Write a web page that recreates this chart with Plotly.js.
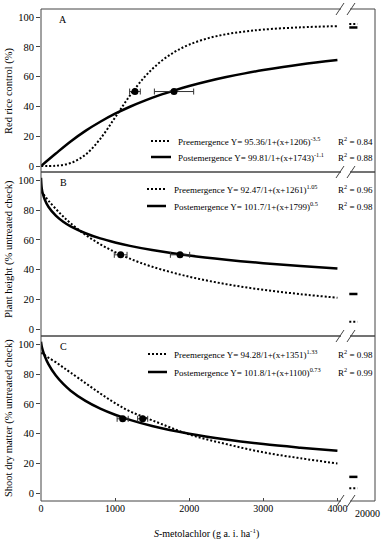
<!DOCTYPE html>
<html>
<head>
<meta charset="utf-8">
<script src="https://cdn.plot.ly/plotly-3.0.1.min.js"></script>
<style>html,body{margin:0;padding:0;background:#fff}#chart{width:382px;height:540px}</style>
</head>
<body>
<div id="chart"></div>
<script>
// ---------- data ----------
const doseA = [0, 200, 400, 600, 800, 1000, 1200, 1400, 1600, 1800, 2000, 2250, 2500, 2750, 3000, 3500, 4000];
const preA  = [0, 0.2, 2.0, 7.6, 18.3, 32.6, 47.3, 59.9, 69.5, 76.5, 81.5, 85.7, 88.5, 90.3, 91.6, 93.1, 93.9];
const postA = [0, 8.4, 16.5, 23.6, 29.7, 35.1, 39.8, 43.9, 47.6, 50.8, 53.7, 56.9, 59.7, 62.2, 64.4, 68.2, 71.2];

const doseBC = [0, 10, 25, 50, 100, 200, 300, 400, 600, 800, 1000, 1200, 1500, 2000, 2500, 3000, 3500, 4000];
const preB  = [92.5, 91.9, 91.0, 89.5, 86.4, 80.8, 75.7, 71.2, 63.4, 57.1, 51.8, 47.4, 42.0, 35.3, 30.3, 26.5, 23.6, 21.2];
const postB = [101.7, 94.6, 91.0, 87.2, 82.3, 76.3, 72.2, 69.1, 64.5, 61.0, 58.3, 56.0, 53.2, 49.5, 46.7, 44.4, 42.5, 40.8];
const preC  = [94.3, 94.0, 93.5, 92.7, 91.0, 88.0, 84.5, 81.0, 74.0, 67.0, 60.5, 55.0, 49.0, 39.5, 33.0, 27.5, 23.5, 20.0];
const postC = [101.8, 98.6, 95.8, 92.2, 86.7, 79.0, 73.4, 68.9, 62.0, 56.8, 52.7, 49.3, 45.2, 40.0, 36.1, 33.0, 30.6, 28.5];

// ED50 points (x = dose, y = 50) with horizontal error
const ed50PreX   = [1268, 1075, 1372];
const ed50PreErr = [72, 86, 68];
const ed50PostX  = [1795, 1876, 1102];
const ed50PostErr= [265, 130, 75];
const ed50Y      = [50, 50, 50];

// observed values at 20000 g a.i./ha (broken axis segment)
const highDose = 20000;
const highPre  = [95.3, 5.0, 3.3];
const highPost = [93.0, 23.7, 11.0];

const xTicks = [0, 1000, 2000, 3000, 4000];
const yTicks = [0, 20, 40, 60, 80, 100];

const eqPre  = ['Y= 95.36/1+(x+1206)<sup>-3.5</sup>', 'Y= 92.47/1+(x+1261)<sup>1.05</sup>', 'Y= 94.28/1+(x+1351)<sup>1.33</sup>'];
const eqPost = ['Y= 99.81/1+(x+1743)<sup>-1.1</sup>', 'Y= 101.7/1+(x+1799)<sup>0.5</sup>', 'Y= 101.8/1+(x+1100)<sup>0.73</sup>'];
const r2Pre  = ['0.84', '0.96', '0.98'];
const r2Post = ['0.88', '0.98', '0.99'];
const panelLetters = ['A', 'B', 'C'];
const yTitles = ['Red rice control (%)', 'Plant height (% untreated check)', 'Shoot dry matter (% untreated check)'];

// ---------- layout helpers ----------
const W = 382, H = 540, ML = 41, MR = 7, MT = 9, MB = 39;
const PW = W - ML - MR, PH = H - MT - MB;
const px = v => (v - ML) / PW;
const py = v => (H - MB - v) / PH;
const XMAX = 4507;
const highPos = 4215;      // where the 20000 segment sits on the drawn axis
const highHalf = 55;

const panelsPx = [[9, 172], [172, 336], [336, 501]];
const yRanges = [[-4.0, 105.4], [-4.5, 105.6], [-5.2, 105.6]];
const yNames = ['y', 'y2', 'y3'];
const curves = [[doseA, preA, postA], [doseBC, preB, postB], [doseBC, preC, postC]];
const legendPy = [[141, 157], [189, 206], [354, 372]];
const legendSample = [[151, 171], [147, 166], [148, 167]];
const legendText = [176, 172, 172];
const letterPy = [19, 182, 346];
const titlePy = [91, 249, 418];

const FONT = '"Liberation Serif", "Times New Roman", serif';
const DOT = '2px,2px';
const LEG = 9;
const traces = [];
const shapes = [];
const annotations = [];

for (let i = 0; i < 3; i++) {
  const ya = yNames[i];
  const [d, pre, post] = curves[i];
  traces.push({x: d, y: pre, yaxis: ya, mode: 'lines', line: {color: '#000', width: 2, dash: DOT, shape: 'spline'}, hoverinfo: 'skip'});
  traces.push({x: d, y: post, yaxis: ya, mode: 'lines', line: {color: '#000', width: 2.5, shape: 'spline'}, hoverinfo: 'skip'});
  traces.push({x: [ed50PreX[i], ed50PostX[i]], y: [ed50Y[i], ed50Y[i]], yaxis: ya, mode: 'markers',
    marker: {color: '#000', size: 7},
    error_x: {type: 'data', array: [ed50PreErr[i], ed50PostErr[i]], color: '#333', thickness: 1, width: 3}});
  traces.push({x: [highPos - highHalf, highPos + highHalf], y: [highPre[i], highPre[i]], yaxis: ya, mode: 'lines',
    line: {color: '#000', width: 2, dash: DOT}, name: String(highDose)});
  traces.push({x: [highPos - highHalf, highPos + highHalf], y: [highPost[i], highPost[i]], yaxis: ya, mode: 'lines',
    line: {color: '#000', width: 2.5}, name: String(highDose)});

  const [top, bot] = panelsPx[i];
  shapes.push({type: 'rect', xref: 'paper', yref: 'paper', x0: 0, x1: 1, y0: py(bot), y1: py(top), line: {color: '#444', width: 1}});

  // legend samples
  const [ls0, ls1] = legendSample[i];
  shapes.push({type: 'line', xref: 'paper', yref: 'paper', x0: px(ls0), x1: px(ls1), y0: py(legendPy[i][0]), y1: py(legendPy[i][0]), line: {color: '#000', width: 2, dash: DOT}});
  shapes.push({type: 'line', xref: 'paper', yref: 'paper', x0: px(ls0), x1: px(ls1), y0: py(legendPy[i][1]), y1: py(legendPy[i][1]), line: {color: '#000', width: 2.5}});

  annotations.push({xref: 'paper', yref: 'paper', x: px(legendText[i]), y: py(legendPy[i][0]), xanchor: 'left', yanchor: 'middle', showarrow: false,
    text: 'Preemergence ' + eqPre[i], font: {family: FONT, size: LEG, color: '#000'}});
  annotations.push({xref: 'paper', yref: 'paper', x: px(legendText[i]), y: py(legendPy[i][1]), xanchor: 'left', yanchor: 'middle', showarrow: false,
    text: 'Postemergence ' + eqPost[i], font: {family: FONT, size: LEG, color: '#000'}});
  annotations.push({xref: 'paper', yref: 'paper', x: px(336), y: py(legendPy[i][0]), xanchor: 'left', yanchor: 'middle', showarrow: false,
    text: 'R<sup>2</sup> = ' + r2Pre[i], font: {family: FONT, size: LEG, color: '#000'}});
  annotations.push({xref: 'paper', yref: 'paper', x: px(336), y: py(legendPy[i][1]), xanchor: 'left', yanchor: 'middle', showarrow: false,
    text: 'R<sup>2</sup> = ' + r2Post[i], font: {family: FONT, size: LEG, color: '#000'}});
  annotations.push({xref: 'paper', yref: 'paper', x: px(63), y: py(letterPy[i]), xanchor: 'center', yanchor: 'middle', showarrow: false,
    text: panelLetters[i], font: {family: FONT, size: 10, color: '#000'}});
  annotations.push({xref: 'paper', yref: 'paper', x: px(9), y: py(titlePy[i]), xanchor: 'center', yanchor: 'middle', showarrow: false,
    textangle: -90, text: yTitles[i], font: {family: FONT, size: 10.5, color: '#000'}});
}

// axis break marks
[9, 172, 336, 501].forEach(b => {
  shapes.push({type: 'line', xref: 'paper', yref: 'paper', x0: px(341), x1: px(350), y0: py(b), y1: py(b), line: {color: '#fff', width: 3}});
  shapes.push({type: 'line', xref: 'paper', yref: 'paper', x0: px(336), x1: px(344), y0: py(b + 6), y1: py(b - 6), line: {color: '#444', width: 1}});
  shapes.push({type: 'line', xref: 'paper', yref: 'paper', x0: px(347), x1: px(355), y0: py(b + 6), y1: py(b - 6), line: {color: '#444', width: 1}});
});

annotations.push({xref: 'paper', yref: 'paper', x: px(367), y: py(513), xanchor: 'center', yanchor: 'middle', showarrow: false,
  text: String(highDose), font: {family: FONT, size: 10, color: '#000'}});
annotations.push({xref: 'paper', yref: 'paper', x: px(206), y: py(533), xanchor: 'center', yanchor: 'middle', showarrow: false,
  text: '<i>S</i>-metolachlor (g a. i. ha<sup>-1</sup>)', font: {family: FONT, size: 10, color: '#000'}});

const yAxisBase = {tickvals: yTicks, ticks: 'outside', ticklen: 4, tickcolor: '#444', showgrid: false, zeroline: false, showline: false,
  tickfont: {family: FONT, size: 10.5, color: '#000'}, fixedrange: true};

const layout = {
  width: W, height: H, margin: {l: ML, r: MR, t: MT, b: MB},
  paper_bgcolor: '#fff', plot_bgcolor: '#fff', showlegend: false,
  font: {family: FONT, size: 10, color: '#000'},
  xaxis: {range: [0, XMAX], anchor: 'y3', tickvals: xTicks, ticks: 'inside', ticklen: 3, tickcolor: '#444',
    showgrid: false, zeroline: false, showline: false, tickfont: {family: FONT, size: 10, color: '#000'}},
  yaxis: Object.assign({}, yAxisBase, {domain: [py(panelsPx[0][1]), py(panelsPx[0][0])], range: yRanges[0]}),
  yaxis2: Object.assign({}, yAxisBase, {domain: [py(panelsPx[1][1]), py(panelsPx[1][0])], range: yRanges[1]}),
  yaxis3: Object.assign({}, yAxisBase, {domain: [py(panelsPx[2][1]), py(panelsPx[2][0])], range: yRanges[2]}),
  shapes: shapes,
  annotations: annotations
};

Plotly.newPlot('chart', traces, layout, {displayModeBar: false, staticPlot: true});
</script>
</body>
</html>
